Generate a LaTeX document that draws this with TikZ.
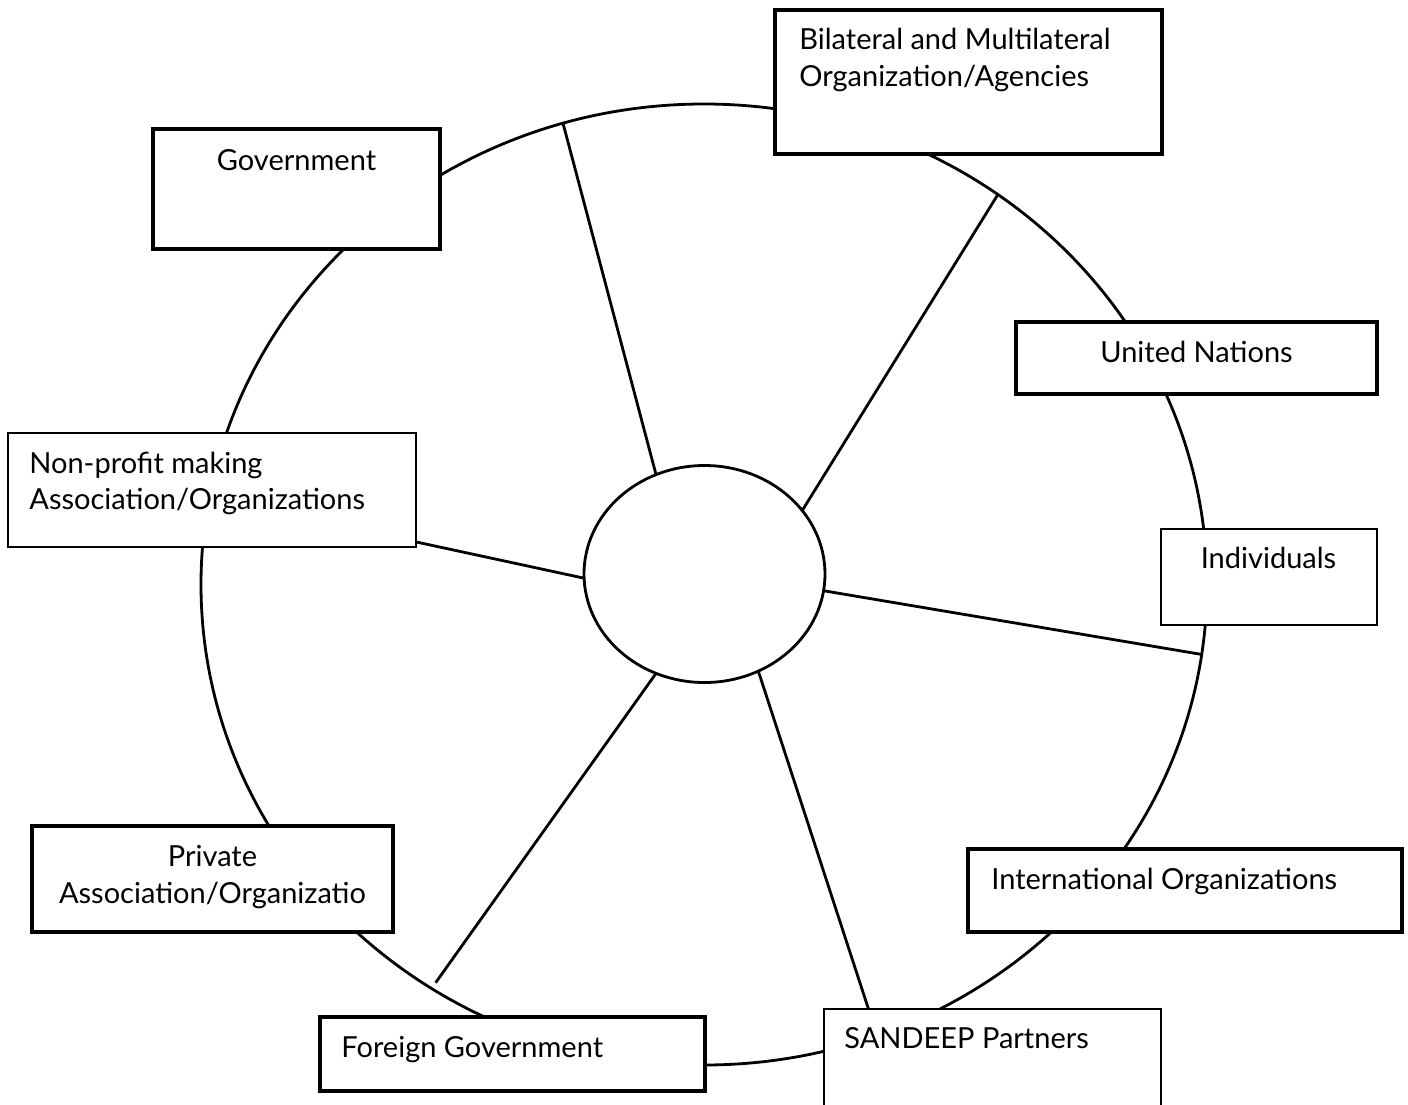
\documentclass[tikz,border=0pt]{standalone}
\usepackage{fontspec}
\setmainfont{Lato}
\usetikzlibrary{shapes.geometric}
\begin{document}
\begin{tikzpicture}[x=0.5pt,y=-0.5pt,
  ring/.style={ellipse, draw, line width=1.4pt, inner sep=0pt, outer sep=0pt},
  thickbox/.style={rectangle, draw, line width=1.7pt, fill=white, inner sep=0pt},
  thinbox/.style={rectangle, draw, line width=0.7pt, fill=white, inner sep=0pt},
  lbl/.style={inner sep=0pt, font=\fontsize{14.5}{17}\selectfont},
  spoke/.style={line width=1.4pt}]
\useasboundingbox (0,0) rectangle (1408,1104);
\clip (0,0) rectangle (1408,1104);
% outer ring and hub
\node[ring, minimum width=503pt, minimum height=480.5pt] (rim) at (704,584.5) {};
\node[ring, fill=white, minimum width=120.5pt, minimum height=108.5pt] (hub) at (704.5,574) {};
% spokes
\draw[spoke] (hub.116.3) -- (rim.107.2);
\draw[spoke] (hub.33) -- (rim.53.4);
\draw[spoke] (hub.182.9) -- (rim.170.9);
\draw[spoke] (hub.-8.1) -- (rim.-8.28);
\draw[spoke, shorten >=3.5pt] (hub.244.6) -- (rim.236.8);
\draw[spoke] (hub.-61.8) -- (rim.-69.8);
% boxes
\node[thickbox, minimum width=193.5pt, minimum height=72pt] (bil) at (968.5,82) {};
\node[thickbox, minimum width=143.5pt, minimum height=60pt] (gov) at (296.5,189) {};
\node[thickbox, minimum width=180.5pt, minimum height=36pt] (un) at (1196.5,358) {};
\node[thinbox, minimum width=108pt, minimum height=48pt] (ind) at (1269,577) {};
\node[thinbox, minimum width=204pt, minimum height=57pt] (np) at (212,490) {};
\node[thickbox, minimum width=180.5pt, minimum height=53pt] (priv) at (212.5,879) {};
\node[thickbox, minimum width=192.5pt, minimum height=37pt] (fg) at (512.5,1054) {};
\node[thinbox, minimum width=168.5pt, minimum height=56pt] (sand) at (992.5,1065) {};
\node[thickbox, minimum width=217pt, minimum height=41.5pt] (intl) at (1185,890.5) {};
% labels
\node[lbl, anchor=base west] (bilA) at (799,49) {Bilateral and Multilateral};
\node[lbl, anchor=base west] (bilB) at (799,86) {Organization/Agencies};
\node[lbl, anchor=base] (govT) at (296.5,170) {Government};
\node[lbl, anchor=base] (unT) at (1196.5,362) {United Nations};
\node[lbl, anchor=base] (indT) at (1268.5,568) {Individuals};
\node[lbl, anchor=base west] (npA) at (29,473) {Non-profit making};
\node[lbl, anchor=base west] (npB) at (29,509) {Association/Organizations};
\node[lbl, anchor=base] (prA) at (212.5,866) {Private};
\node[lbl, anchor=base] (prB) at (212.5,903) {Association/Organizatio};
\node[lbl, anchor=base west] (fgT) at (341,1057) {Foreign Government};
\node[lbl, anchor=base west] (sdT) at (844,1048) {SANDEEP Partners};
\node[lbl, anchor=base west] (ioT) at (991,889) {International Organizations};
\end{tikzpicture}
\end{document}
